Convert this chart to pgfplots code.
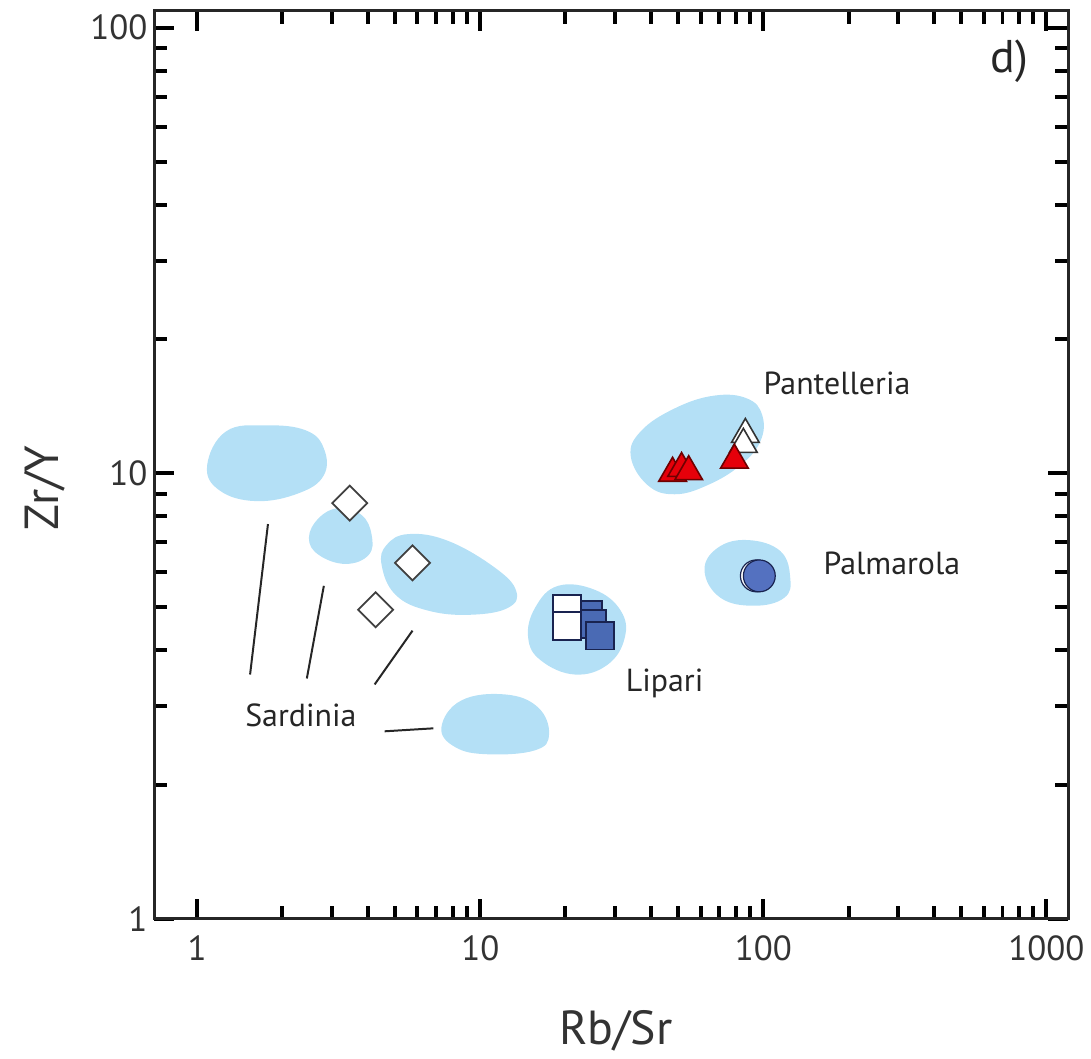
\documentclass[border=0pt]{standalone}
\usepackage{pgfplots}
\pgfplotsset{compat=1.18}
\usepackage{fontspec}
\setmainfont{PT Sans}
\definecolor{blob}{RGB}{180,224,246}
\definecolor{tred}{RGB}{230,0,10}
\definecolor{tredd}{RGB}{110,0,0}
\definecolor{sqblue}{RGB}{74,106,180}
\definecolor{sqnavy}{RGB}{25,35,80}
\definecolor{cblue}{RGB}{84,113,192}
\begin{document}
\begin{tikzpicture}
\begin{axis}[
  scale only axis,
  width=458.5pt, height=455.5pt,
  xmode=log, ymode=log,
  xmin=0.706, xmax=1194,
  ymin=1, ymax=109.1,
  xtick={1,10,100,1000}, xticklabels={1,10,100,1000},
  ytick={1,10,100}, yticklabels={1,10,100},
  /pgf/number format/assume math mode=true,
  tick label style={font=\fontsize{17.5}{20}\selectfont, text=black!80},
  xticklabel style={yshift=-5pt},
  tick align=inside,
  major tick length=10pt, minor tick length=6.5pt,
  every tick/.style={line width=2pt, black},
  axis line style={line width=1.5pt, black!85},
  xlabel={Rb/Sr}, ylabel={Zr/Y},
  label style={font=\fontsize{24}{28}\selectfont, text=black!80},
  xlabel style={at={(axis description cs:0.505,-0.124)}, anchor=center},
  ylabel style={at={(axis description cs:-0.12,0.474)}, anchor=center},
  clip=false,
]
% ---- fields ----
\addplot[fill=blob, draw=none, smooth cycle, tension=0.7] coordinates {
 (34.02,10.91) (39.05,9.40) (48.6,8.97) (63.5,9.40) (82.99,10.42) (97.6,11.79)
 (99.2,13.48) (87.8,14.71) (67.2,14.94) (48.6,13.98) (36.9,12.42)};
\addplot[fill=blob, draw=none, smooth cycle, tension=0.7] coordinates {
 (61.98,6.036) (70.58,5.253) (92.97,5.041) (118.6,5.253) (124.5,5.822)
 (114.8,6.690) (87.85,7.081) (68.87,6.796)};
\addplot[fill=blob, draw=none, smooth cycle, tension=0.7] coordinates {
 (14.76,4.275) (16.40,3.797) (21.60,3.533) (28.22,3.720) (32.40,4.275)
 (31.36,4.913) (25.41,5.473) (18.82,5.587) (15.62,4.989)};
\addplot[fill=blob, draw=none, smooth cycle, tension=0.7] coordinates {
 (1.084,10.42) (1.195,9.162) (1.613,8.657) (2.287,9.022) (2.801,9.897)
 (2.801,11.37) (2.420,12.48) (1.750,12.81) (1.265,12.42)};
\addplot[fill=blob, draw=none, smooth cycle, tension=0.7] coordinates {
 (2.480,7.155) (2.689,6.555) (3.346,6.258) (4.033,6.555) (4.133,7.266)
 (3.811,8.054) (3.162,8.350) (2.689,7.932)};
\addplot[fill=blob, draw=none, smooth cycle, tension=0.7] coordinates {
 (4.481,6.226) (5.020,5.334) (6.560,4.913) (9.297,4.812) (12.55,4.989)
 (13.39,5.445) (11.29,6.131) (7.715,7.045) (5.578,7.303) (4.667,6.901)};
\addplot[fill=blob, draw=none, smooth cycle, tension=0.7] coordinates {
 (7.291,2.689) (8.166,2.426) (10.67,2.339) (15.62,2.388) (17.50,2.593)
 (16.00,2.981) (12.25,3.187) (8.573,3.090)};
% ---- Sardinia leader lines ----
\draw[line width=1pt, black!85] (axis cs:1.778,7.690) -- (axis cs:1.537,3.533);
\draw[line width=1pt, black!85] (axis cs:2.801,5.587) -- (axis cs:2.439,3.461);
\draw[line width=1pt, black!85] (axis cs:5.762,4.432) -- (axis cs:4.234,3.356);
\draw[line width=1pt, black!85] (axis cs:4.592,2.634) -- (axis cs:6.831,2.675);
% ---- data ----
% Sardinia diamonds
\addplot[only marks, mark=square*, mark size=6.2pt,
  mark options={rotate=45, fill=white, draw=black!75, line width=0.9pt}] coordinates {
 (3.457,8.568) (5.762,6.291) (4.268,4.937)};
% Lipari squares
\addplot[only marks, mark=square*, mark size=7pt,
  mark options={fill=sqblue, draw=sqnavy, line width=0.9pt}] coordinates {
 (24.01,4.812) (24.80,4.595) (26.46,4.319)};
\addplot[only marks, mark=square*, mark size=7pt,
  mark options={fill=white, draw=sqnavy, line width=0.9pt}] coordinates {
 (20.24,4.963) (20.24,4.548)};
% Pantelleria triangles
\addplot[only marks, mark=triangle*, mark size=8pt,
  mark options={fill=white, draw=black!80, line width=0.8pt}] coordinates {
 (86.42,12.22) (85.03,11.61)};
\addplot[only marks, mark=triangle*, mark size=8pt,
  mark options={fill=tred, draw=tredd, line width=0.8pt}] coordinates {
 (47.8,10.0) (51.43,10.25) (54.5,10.08) (79.05,10.7)};
% Palmarola circles
\addplot[only marks, mark=*, mark size=8pt,
  mark options={fill=white, draw=sqnavy, line width=0.6pt}] coordinates {(94.5,5.883)};
\addplot[only marks, mark=*, mark size=8pt,
  mark options={fill=cblue, draw=sqnavy, line width=0.6pt}] coordinates {(96.8,5.883)};
% ---- labels ----
\node[font=\fontsize{16}{19}\selectfont, text=black!85] at (axis cs:182.2,15.90) {Pantelleria};
\node[font=\fontsize{16}{19}\selectfont, text=black!85] at (axis cs:284.6,6.291) {Palmarola};
\node[font=\fontsize{16}{19}\selectfont, text=black!85] at (axis cs:44.81,3.373) {Lipari};
\node[font=\fontsize{16}{19}\selectfont, text=black!85] at (axis cs:2.323,2.860) {Sardinia};
\node[font=\fontsize{23}{27}\selectfont, text=black!85] at (axis cs:740.8,83.94) {d)};
\end{axis}
\path (current axis.south west) ++(-77.5pt,-68pt);
\path (current axis.north east) ++(9.5pt,5.5pt);
\end{tikzpicture}
\end{document}
